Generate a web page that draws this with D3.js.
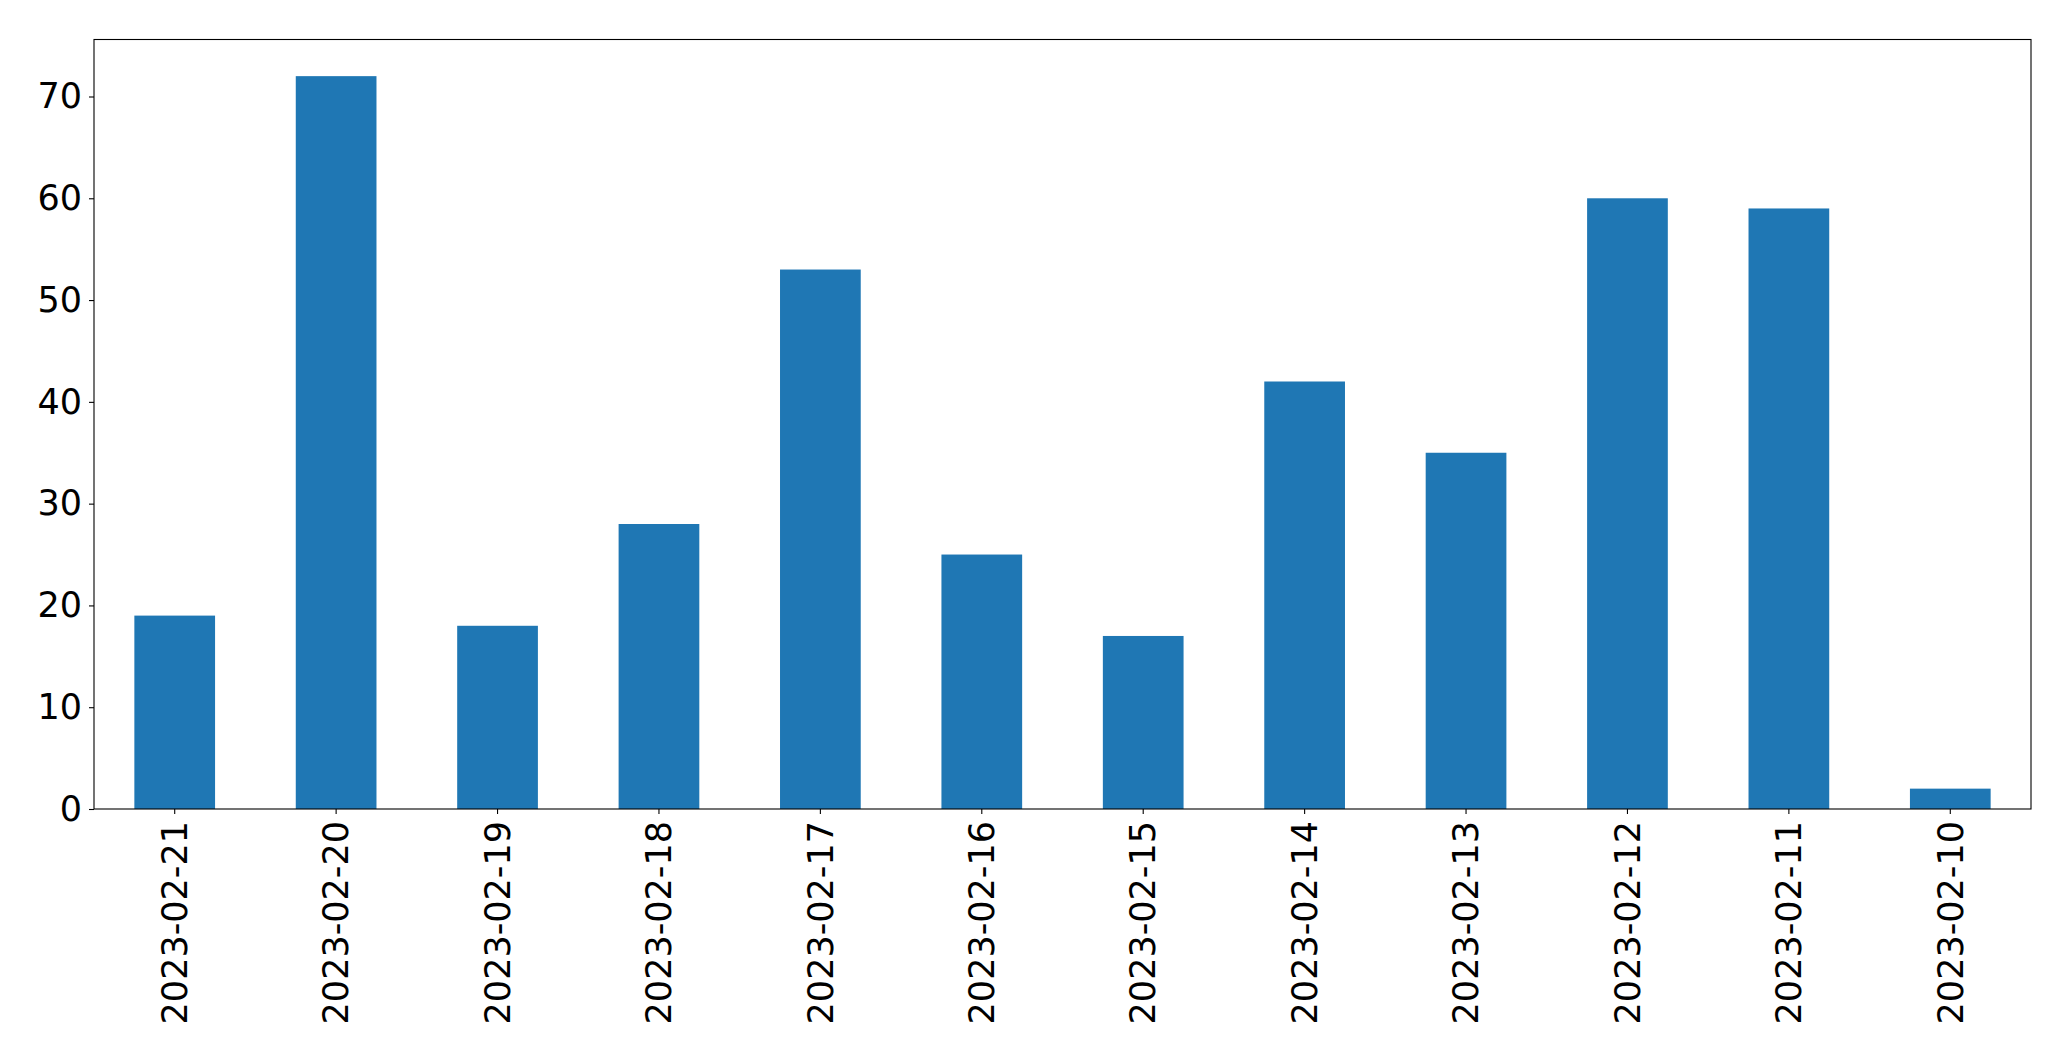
<!DOCTYPE html>
<html>
<head>
<meta charset="utf-8">
<script src="https://cdn.jsdelivr.net/npm/d3@7/dist/d3.min.js"></script>
<style>
  html, body { margin: 0; padding: 0; background: #fff; }
  svg { display: block; }
</style>
</head>
<body>
<script>
const categories = ["2023-02-21","2023-02-20","2023-02-19","2023-02-18","2023-02-17","2023-02-16","2023-02-15","2023-02-14","2023-02-13","2023-02-12","2023-02-11","2023-02-10"];
const values = [19, 72, 18, 28, 53, 25, 17, 42, 35, 60, 59, 2];
const yTicks = [0, 10, 20, 30, 40, 50, 60, 70];

const W = 2071, H = 1061;
const margin = {left: 94, top: 39.5, right: W - 2031, bottom: H - 809};
const iw = W - margin.left - margin.right;
const ih = H - margin.top - margin.bottom;

const svg = d3.select("body").append("svg").attr("width", W).attr("height", H);
const g = svg.append("g").attr("transform", `translate(${margin.left},${margin.top})`);

const x = d3.scaleBand().domain(categories).range([0, iw]).paddingInner(0.5).paddingOuter(0.25);
const y = d3.scaleLinear().domain([0, d3.max(values) * 1.05]).range([ih, 0]);

g.selectAll("rect.bar").data(values).enter().append("rect")
  .attr("class", "bar")
  .attr("x", (d, i) => x(categories[i]))
  .attr("width", x.bandwidth())
  .attr("y", d => y(d))
  .attr("height", d => y(0) - y(d))
  .attr("fill", "#1f77b4");

const font = "'DejaVu Sans', sans-serif";
const fs = 35;

const yAxis = g.append("g").call(d3.axisLeft(y).tickValues(yTicks).tickSize(5).tickPadding(7).tickFormat(d3.format("d")));
yAxis.select(".domain").remove();
yAxis.selectAll("text").attr("font-family", font).attr("font-size", fs).attr("fill", "#000");
yAxis.selectAll("line").attr("stroke", "#000").attr("stroke-width", 1.1);

const xAxis = g.append("g").attr("transform", `translate(0,${ih})`)
  .call(d3.axisBottom(x).tickSize(5).tickPadding(8));
xAxis.select(".domain").remove();
xAxis.selectAll("line").attr("stroke", "#000").attr("stroke-width", 1.1);
xAxis.selectAll("text")
  .attr("font-family", font).attr("font-size", fs).attr("fill", "#000")
  .attr("transform", "rotate(-90)")
  .attr("text-anchor", "end")
  .attr("x", -12)
  .attr("y", 0)
  .attr("dy", "0.35em");

g.append("rect").attr("x", 0).attr("y", 0).attr("width", iw).attr("height", ih)
  .attr("fill", "none").attr("stroke", "#000").attr("stroke-width", 1.1);
</script>
</body>
</html>
